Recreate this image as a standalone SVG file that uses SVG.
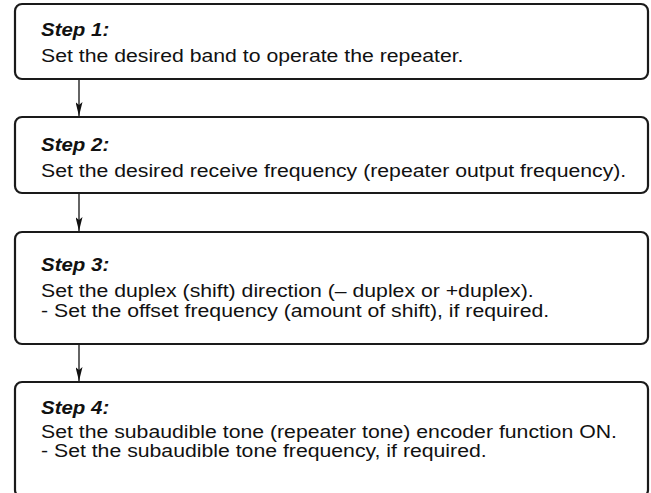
<svg xmlns="http://www.w3.org/2000/svg" width="651" height="493" viewBox="0 0 651 493">
<style>
.box{fill:#fff;stroke:#1a1a1a;stroke-width:2.2}
.t{font-family:"Liberation Sans",Arial,sans-serif;font-size:17.5px;font-weight:bold;font-style:italic;fill:#111}
.b{font-family:"Liberation Sans",Arial,sans-serif;font-size:18.5px;fill:#111}
.c{stroke:#111;stroke-width:1.3;fill:none}
</style>
<defs>
<marker id="ad" viewBox="0 0 7 14" refX="3.5" refY="14" markerWidth="7" markerHeight="14" markerUnits="userSpaceOnUse" orient="0">
<path d="M0,0 L3.5,3 L7,0 L3.5,14 Z" fill="#111"/>
</marker>
</defs>
<g id="connectors">
<line class="c" x1="79" y1="80" x2="79" y2="116" marker-end="url(#ad)"/>
<line class="c" x1="79" y1="194" x2="79" y2="231" marker-end="url(#ad)"/>
<line class="c" x1="79" y1="345" x2="79" y2="381" marker-end="url(#ad)"/>
</g>
<g id="step1">
<rect class="box" x="15" y="4" width="633" height="75" rx="7"/>
<text class="t" transform="translate(41,36) scale(1.17,1)">Step 1:</text>
<text class="b" transform="translate(41,62) scale(1.148,1)">Set the desired band to operate the repeater.</text>
</g>
<g id="step2">
<rect class="box" x="15" y="117" width="633" height="76" rx="7"/>
<text class="t" transform="translate(41,151) scale(1.17,1)">Step 2:</text>
<text class="b" transform="translate(41,176.5) scale(1.148,1)">Set the desired receive frequency (repeater output frequency).</text>
</g>
<g id="step3">
<rect class="box" x="15" y="232" width="633" height="112" rx="7"/>
<text class="t" transform="translate(41,271) scale(1.17,1)">Step 3:</text>
<text class="b" transform="translate(41,297) scale(1.148,1)">Set the duplex (shift) direction (– duplex or +duplex).</text>
<text class="b" transform="translate(41,316.5) scale(1.148,1)">- Set the offset frequency (amount of shift), if required.</text>
</g>
<g id="step4">
<rect class="box" x="15" y="382" width="633" height="115" rx="7"/>
<text class="t" transform="translate(41,414) scale(1.17,1)">Step 4:</text>
<text class="b" transform="translate(41,437.5) scale(1.148,1)">Set the subaudible tone (repeater tone) encoder function ON.</text>
<text class="b" transform="translate(41,457) scale(1.148,1)">- Set the subaudible tone frequency, if required.</text>
</g>
</svg>
